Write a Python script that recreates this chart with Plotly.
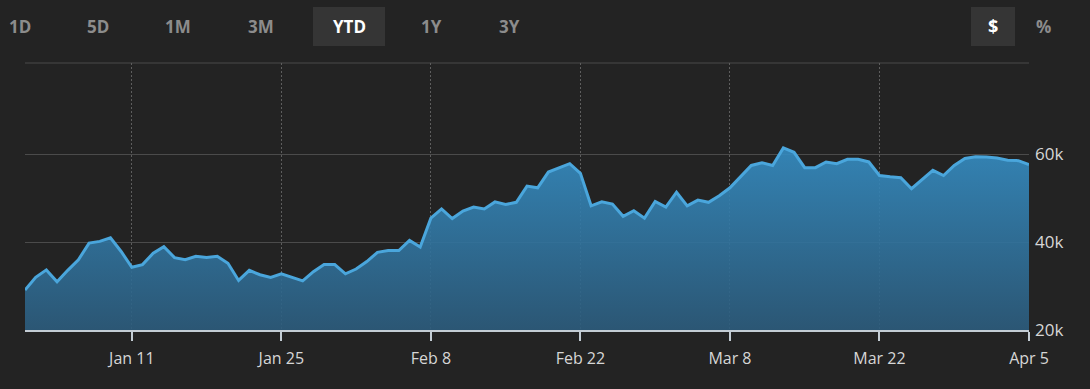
import plotly.graph_objects as go
import pandas as pd

# ---- data (in thousands of $) ----
start_date = "2021-01-01"
jan = [29.1, 32.0, 33.7, 31.0, 33.6, 36.0, 39.8, 40.2, 41.0, 37.9, 34.3, 34.9, 37.5, 39.0, 36.5, 36.0,
       36.8, 36.5, 36.8, 35.2, 31.3, 33.6, 32.6, 32.0, 32.8, 32.0, 31.2, 33.3, 34.9, 34.9, 32.8]
feb = [33.9, 35.6, 37.7, 38.1, 38.1, 40.4, 38.9, 45.5, 47.6, 45.4, 47.1, 48.0, 47.6, 49.2, 48.6, 49.1,
       52.8, 52.4, 56.0, 57.0, 57.9, 55.7, 48.3, 49.2, 48.7, 45.9, 47.2, 45.5]
mar = [49.3, 48.0, 51.4, 48.3, 49.6, 49.1, 50.6, 52.4, 55.0, 57.5, 58.1, 57.5, 61.5, 60.5, 57.0, 57.0,
       58.3, 57.9, 58.9, 58.9, 58.3, 55.2, 54.9, 54.7, 52.2, 54.3, 56.4, 55.2, 57.5, 59.1, 59.5]
apr = [59.4, 59.2, 58.7, 58.6, 57.7]

values = [v * 1000 for v in jan + feb + mar + apr]
dates = pd.date_range(start_date, periods=len(values), freq="D")

x_tick_vals = ["2021-01-11", "2021-01-25", "2021-02-08", "2021-02-22", "2021-03-08", "2021-03-22", "2021-04-05"]
x_tick_text = ["Jan 11", "Jan 25", "Feb 8", "Feb 22", "Mar 8", "Mar 22", "Apr 5"]
y_tick_vals = [20000, 40000, 60000]
y_tick_text = ["20k", "40k", "60k"]

range_buttons = ["1D", "5D", "1M", "3M", "YTD", "1Y", "3Y"]
selected_button = "YTD"

# ---- layout constants ----
W, H = 1090, 389
ML, MR, MT, MB = 25, 61, 63, 59
PW, PH = W - ML - MR, H - MT - MB
BG = "#232323"


def px_x(px):
    return (px - ML) / PW


def px_y(py):
    return (H - MB - py) / PH


fig = go.Figure()
fig.add_trace(go.Scatter(
    x=dates, y=values, mode="lines",
    line=dict(color="#4aa6dc", width=3),
    fill="tozeroy",
    fillgradient=dict(type="vertical", start=20000, stop=61000,
                      colorscale=[[0, "rgba(44,92,125,0.9)"], [1, "rgba(53,141,195,0.9)"]]),
    hoverinfo="skip", showlegend=False,
))

fig.update_layout(
    width=W, height=H,
    margin=dict(l=ML, r=MR, t=MT, b=MB),
    paper_bgcolor=BG, plot_bgcolor=BG,
    font=dict(family="Open Sans, Noto Sans, sans-serif", color="#d6d6d6"),
    xaxis=dict(
        range=["2021-01-01", "2021-04-05"],
        tickvals=x_tick_vals, ticktext=x_tick_text,
        showgrid=True, gridcolor="#5e5e5e", griddash="2px,2px", gridwidth=1,
        showline=True, linecolor="#c3ccd4", linewidth=2,
        ticks="outside", ticklen=9, tickwidth=2, tickcolor="#c3ccd4",
        tickfont=dict(size=16, color="#d6d6d6"),
        ticklabelstandoff=4,
        zeroline=False, fixedrange=True,
    ),
    yaxis=dict(
        range=[20000, 80850], side="right",
        tickvals=y_tick_vals, ticktext=y_tick_text,
        showgrid=True, gridcolor="#4b4b4b", gridwidth=1,
        showline=False, ticks="", zeroline=False,
        tickfont=dict(size=17, color="#d6d6d6"),
        ticklabelstandoff=5, fixedrange=True,
    ),
)

# top border of the plotting area
fig.add_shape(type="line", xref="paper", yref="paper", x0=0, x1=1, y0=1, y1=1,
              line=dict(color="#4b4b4b", width=1), layer="below")

# ---- range selector buttons (decorative) ----
btn_px = [20, 98, 178, 261, 349, 431, 509]
for label, cx in zip(range_buttons, btn_px):
    sel = label == selected_button
    if sel:
        fig.add_shape(type="rect", xref="paper", yref="paper",
                      x0=px_x(313), x1=px_x(385), y0=px_y(46), y1=px_y(7),
                      fillcolor="#353535", line=dict(width=0), layer="below")
    fig.add_annotation(text="<b>%s</b>" % label, xref="paper", yref="paper",
                       x=px_x(cx), y=px_y(26), xanchor="center", yanchor="middle",
                       showarrow=False,
                       font=dict(size=17, color="#ffffff" if sel else "#8c8c8c"))

fig.add_shape(type="rect", xref="paper", yref="paper",
              x0=px_x(971), x1=px_x(1015), y0=px_y(46), y1=px_y(7),
              fillcolor="#353535", line=dict(width=0), layer="below")
fig.add_annotation(text="<b>$</b>", xref="paper", yref="paper", x=px_x(993), y=px_y(26),
                   xanchor="center", yanchor="middle",
                   showarrow=False, font=dict(size=18, color="#ffffff"))
fig.add_annotation(text="<b>%</b>", xref="paper", yref="paper", x=px_x(1043), y=px_y(26),
                   xanchor="center", yanchor="middle",
                   showarrow=False, font=dict(size=17, color="#8c8c8c"))

fig.write_html("out.html", config={"displayModeBar": False},
               post_script="document.body.style.margin='0';document.body.style.background='%s';" % BG)
